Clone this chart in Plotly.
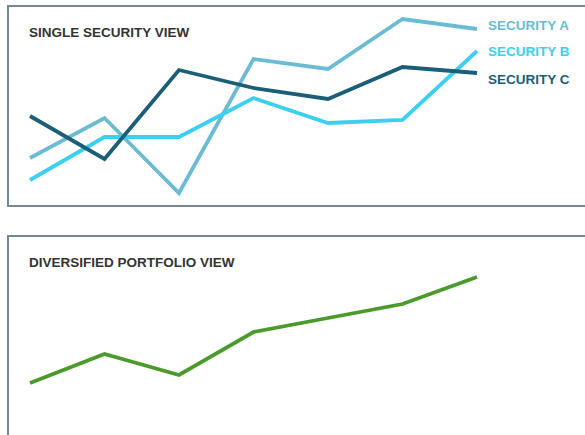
import plotly.graph_objects as go

# Periods along the horizontal axis (seven observations)
periods = [1, 2, 3, 4, 5, 6, 7]

# Single-security values (arbitrary index units)
security_a = [19.5, 39.5, 2.0, 69.0, 64.0, 89.0, 84.0]
security_b = [8.5, 30.0, 30.0, 49.5, 37.0, 38.5, 73.0]
security_c = [40.5, 19.0, 63.5, 54.5, 49.0, 65.0, 62.0]

# Diversified portfolio values (arbitrary index units)
portfolio = [8.5, 23.0, 12.5, 34.0, 41.0, 48.0, 61.5]

series_names = ["SECURITY A", "SECURITY B", "SECURITY C"]
series_colors = ["#6bbcd2", "#3ccff0", "#1b5e78"]
portfolio_color = "#4b9a2c"
border_color = "#75889a"
title_color = "#333333"

W, H = 585, 435
FONT = "Liberation Sans, Arial, sans-serif"
TEXT_SIZE = 13.5

fig = go.Figure()

for name, vals, col in zip(series_names, [security_a, security_b, security_c], series_colors):
    fig.add_trace(go.Scatter(
        x=periods, y=vals, mode="lines", name=name,
        line=dict(color=col, width=3.8), xaxis="x", yaxis="y",
        showlegend=False, hoverinfo="skip",
    ))

fig.add_trace(go.Scatter(
    x=periods, y=portfolio, mode="lines", name="Portfolio",
    line=dict(color=portfolio_color, width=3.8), xaxis="x2", yaxis="y2",
    showlegend=False, hoverinfo="skip",
))

# Series labels stacked at the right of the top panel
label_rows = [26, 52, 79]
for name, col, row in zip(series_names, series_colors, label_rows):
    fig.add_annotation(
        x=486 / W, xref="paper", y=1 - row / H, yref="paper",
        text=f"<b>{name}</b>", showarrow=False, xanchor="left", yanchor="middle",
        font=dict(family=FONT, size=TEXT_SIZE, color=col),
    )

# Panel titles
fig.add_annotation(
    x=27 / W, xref="paper", y=1 - 32 / H, yref="paper",
    text="<b>SINGLE SECURITY VIEW</b>", showarrow=False, xanchor="left", yanchor="middle",
    font=dict(family=FONT, size=TEXT_SIZE, color=title_color),
)
fig.add_annotation(
    x=27 / W, xref="paper", y=1 - 262 / H, yref="paper",
    text="<b>DIVERSIFIED PORTFOLIO VIEW</b>", showarrow=False, xanchor="left", yanchor="middle",
    font=dict(family=FONT, size=TEXT_SIZE, color=title_color),
)

# Panel frames (open to the right / bottom where they leave the canvas)
fig.add_shape(type="rect", xref="paper", yref="paper",
              x0=8 / W, x1=1.1, y0=1 - 206 / H, y1=1 - 6 / H,
              line=dict(color=border_color, width=2), fillcolor="rgba(0,0,0,0)")
fig.add_shape(type="rect", xref="paper", yref="paper",
              x0=8 / W, x1=1.1, y0=-0.1, y1=1 - 236 / H,
              line=dict(color=border_color, width=2), fillcolor="rgba(0,0,0,0)")

# Horizontal scale: first period at 30px, 74.5px per period
step = 74.5
x_lo = periods[0] - 30 / step
x_hi = x_lo + W / step

split = 220 / H
hidden = dict(showgrid=False, zeroline=False, showticklabels=False, ticks="", showline=False)

fig.update_layout(
    width=W, height=H,
    margin=dict(l=0, r=0, t=0, b=0),
    paper_bgcolor="white", plot_bgcolor="rgba(0,0,0,0)",
    xaxis=dict(domain=[0, 1], range=[x_lo, x_hi], anchor="y", **hidden),
    yaxis=dict(domain=[1 - split, 1], range=[-11.5, 98.5], anchor="x", **hidden),
    xaxis2=dict(domain=[0, 1], range=[x_lo, x_hi], anchor="y2", **hidden),
    yaxis2=dict(domain=[0, 1 - split], range=[-17.5, 90], anchor="x2", **hidden),
)

fig.write_html("out.html")
